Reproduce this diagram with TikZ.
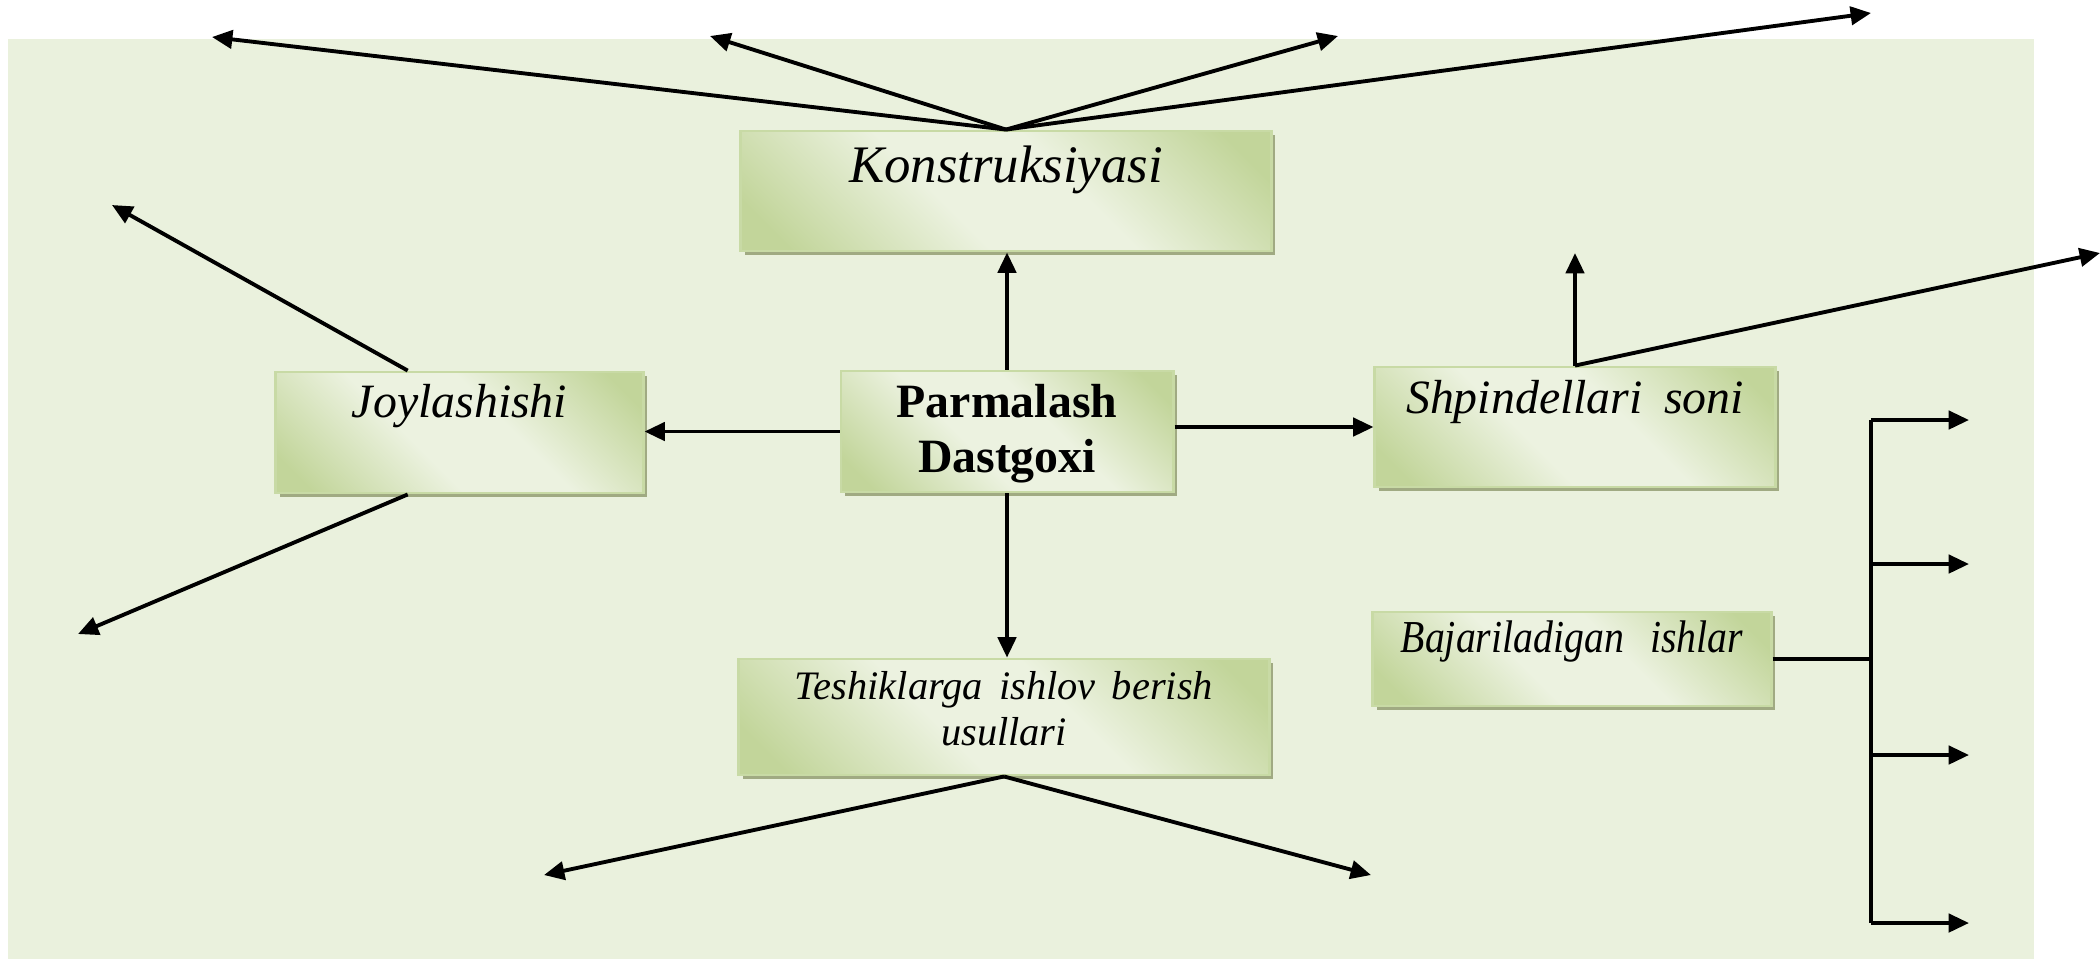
\documentclass[tikz,border=0pt]{standalone}
\usepackage{fontspec}
\usepackage{graphicx}
\setmainfont{Liberation Serif}
\usetikzlibrary{arrows.meta,shadows,calc}

\definecolor{pagebg}{RGB}{234,241,221}
\definecolor{boxdark}{RGB}{194,213,154}
\definecolor{boxlight}{RGB}{236,242,224}
\definecolor{boxline}{RGB}{200,218,165}
\definecolor{boxshade}{RGB}{160,170,130}

\pgfdeclarehorizontalshading{greenband}{100bp}{color(0bp)=(boxdark); color(20bp)=(boxdark); color(42bp)=(boxlight); color(58bp)=(boxlight); color(80bp)=(boxdark); color(100bp)=(boxdark)}

\tikzset{
  panel/.style={draw=boxline, line width=0.8pt, shading=greenband, shading angle=45,
    drop shadow={shadow xshift=1.2pt, shadow yshift=-1.2pt, fill=boxshade, opacity=1},
    inner sep=0pt, align=center},
  link/.style={line width=1.1pt, -{Triangle[length=5.8pt,width=5.2pt]}},
  bar/.style={line width=1.1pt},
}

\begin{document}
\begin{tikzpicture}[x=0.01cm,y=-0.01cm]
  \useasboundingbox (0,0) rectangle (2100,959);
  \fill[pagebg] (8,39) rectangle (2034,959);

  % boxes
  \node[panel,text width=5.30cm,text height=0.51cm,text depth=0.69cm,
    font=\fontsize{15pt}{18pt}\selectfont\itshape] (kons) at (1006,191) {Konstruksiyasi};
  \node[panel,text width=3.32cm,text height=0.46cm,text depth=0.75cm,
    font=\fontsize{13.6pt}{15.9pt}\selectfont\bfseries] (parm) at (1007,431.5) {Parmalash\\Dastgoxi};
  \node[panel,text width=3.67cm,text height=0.45cm,text depth=0.76cm,
    font=\fontsize{13.6pt}{16pt}\selectfont\itshape] (joyl) at (459.5,432.5) {Joylashishi};
  \node[panel,text width=4.00cm,text height=0.46cm,text depth=0.74cm,
    font=\fontsize{13.6pt}{16pt}\selectfont\itshape] (shp) at (1575,427) {Shpindellari\hspace{0.45em}soni};
  \node[panel,text width=3.98cm,text height=0.40cm,text depth=0.54cm,
    font=\fontsize{13pt}{16pt}\selectfont\itshape] (baj) at (1572,659) {\scalebox{0.87}[1]{Bajariladigan\ \ ishlar}};
  \node[panel,text width=5.30cm,text height=0.40cm,text depth=0.76cm,
    font=\fontsize{11.5pt}{13.1pt}\selectfont\itshape] (tesh) at (1004,717) {Teshiklarga\hspace{0.4em}ishlov\hspace{0.4em}berish\\usullari};

  % links from the centre box
  \draw[link] (parm.north) -- (parm.north |- kons.south);
  \draw[link] (parm.west) -- (parm.west -| joyl.east);
  \draw[link] (parm.east |- shp.west) -- (shp.west);
  \draw[link] (parm.south) -- (parm.south |- tesh.north);

  % fan above Konstruksiyasi
  \foreach \x/\y [count=\i] in {212/37,710/36,1338/36,1871/13} {
    \coordinate (top\i) at (\x,\y);
    \draw[link] (kons.north) -- (top\i);
  }

  % Joylashishi
  \coordinate (joyl-up) at (112,205);
  \coordinate (joyl-dn) at (78,634);
  \draw[link] ($(joyl.north west)!0.36!(joyl.north east)$) -- (joyl-up);
  \draw[link] ($(joyl.south west)!0.36!(joyl.south east)$) -- (joyl-dn);

  % Shpindellari soni
  \coordinate (shp-up) at (1573,253);
  \coordinate (shp-out) at (2100,253);
  \draw[link] (shp.north) -- (shp.north |- shp-up);
  \draw[link] (shp.north) -- (shp-out);

  % Teshiklarga
  \coordinate (tesh-l) at (544,875);
  \coordinate (tesh-r) at (1371,875);
  \draw[link] (tesh.south) -- (tesh-l);
  \draw[link] (tesh.south) -- (tesh-r);

  % Bajariladigan ishlar
  \coordinate (bus) at (1871,659);
  \draw[bar] (baj.east) -- (bus);
  \draw[bar] (1871,420) -- (1871,923);
  \foreach \y [count=\i] in {420,564,755,923} {
    \coordinate (out\i) at (1969,\y);
    \draw[link] (1871,\y) -- (out\i);
  }
\end{tikzpicture}
\end{document}
